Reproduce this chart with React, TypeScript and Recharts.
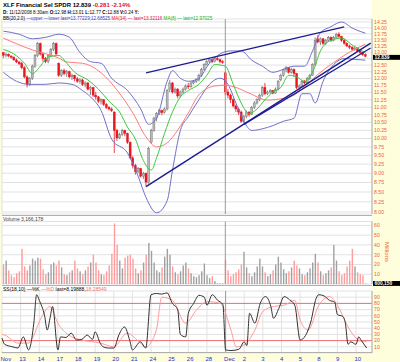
import React from 'react';
import { ComposedChart, Bar, Line, XAxis, YAxis, CartesianGrid, ReferenceLine } from 'recharts';

const dayLabels = ['Nov', '13', '14', '17', '18', '19', '20', '21', '24', '25', '26', '28', 'Dec', '2', '3', '4', '5', '8', '9', '10'];
const barsPerDay = 7;
const slotCount = 140;

// hourly bars, one row per trading day
const opens = [
  12.98, 12.88, 12.92, 12.85, 12.8, 12.7, 12.62,
  12.57, 12.4, 12.06, 11.79, 12.01, 12.46, 12.87,
  13.35, 12.93, 12.75, 12.63, 12.87, 13.11, 13.35,
  12.57, 12.12, 12.29, 12.18, 12.25, 12.06, 12.12,
  11.99, 11.9, 11.95, 11.79, 11.84, 11.62, 11.68,
  11.41, 11.35, 11.2, 11.25, 11.09, 10.99, 10.94,
  10.84, 10.25, 10.02, 10.12, 10.25, 10.16, 9.89,
  9.43, 9.21, 9.04, 9.13, 8.92, 9.0, 8.76,
  9.89, 10.25, 10.64, 10.79, 10.89, 10.82, 10.94,
  11.62, 11.84, 11.52, 11.62, 11.38, 11.52, 11.62,
  11.73, 11.7, 11.84, 11.9, 11.95, 12.12, 12.34,
  12.52, 12.63, 12.71, 12.63, 12.75, 12.71, 12.63,
  12.21, 11.52, 11.41, 11.25, 11.04, 10.94, 10.84,
  10.54, 10.69, 10.84, 10.76, 10.99, 11.14, 11.25,
  11.41, 11.68, 11.46, 11.52, 11.57, 11.48, 11.62,
  11.95, 12.12, 12.32, 12.4, 12.23, 12.34, 12.18,
  11.68, 11.73, 11.9, 11.84, 12.01, 12.12, 12.52,
  13.54, 13.41, 13.54, 13.35, 13.48, 13.6, 13.48,
  13.6, 13.73, 13.64, 13.48, 13.35, 13.25, 13.2,
  13.12, 13.15, 13.05, 12.98, 12.9,
];
const highs = [
  13.01, 12.98, 12.95, 12.88, 12.84, 12.75, 12.66,
  12.63, 12.46, 12.12, 12.06, 12.52, 12.93, 13.41,
  13.39, 12.99, 12.81, 12.93, 13.17, 13.41, 13.39,
  12.6, 12.34, 12.37, 12.32, 12.29, 12.18, 12.14,
  12.06, 12.01, 11.99, 11.9, 11.87, 11.73, 11.7,
  11.52, 11.38, 11.3, 11.27, 11.14, 11.04, 10.99,
  10.86, 10.3, 10.18, 10.3, 10.27, 10.18, 9.91,
  9.48, 9.26, 9.17, 9.15, 9.04, 9.02, 9.75,
  10.3, 10.69, 10.84, 10.94, 10.92, 10.99, 11.62,
  11.95, 11.87, 11.68, 11.66, 11.57, 11.68, 11.79,
  11.84, 11.9, 11.95, 12.01, 12.18, 12.4, 12.57,
  12.69, 12.75, 12.75, 12.79, 12.81, 12.75, 12.69,
  12.25, 11.62, 11.46, 11.3, 11.09, 10.99, 10.89,
  10.74, 10.89, 10.86, 11.04, 11.2, 11.3, 11.46,
  11.73, 11.84, 11.57, 11.62, 11.59, 11.68, 11.95,
  12.18, 12.37, 12.46, 12.43, 12.4, 12.37, 12.21,
  11.79, 11.95, 11.95, 12.06, 12.18, 12.57, 13.6,
  13.69, 13.6, 13.57, 13.54, 13.66, 13.64, 13.66,
  13.79, 13.82, 13.66, 13.54, 13.4, 13.3, 13.24,
  13.22, 13.18, 13.1, 13.01, 12.95,
];
const lows = [
  12.77, 12.8, 12.8, 12.75, 12.66, 12.58, 12.5,
  12.34, 12.01, 11.68, 11.73, 11.95, 12.4, 12.81,
  12.87, 12.63, 12.57, 12.57, 12.81, 13.05, 12.87,
  12.06, 12.06, 12.12, 12.06, 12.01, 11.95, 11.9,
  11.84, 11.81, 11.73, 11.68, 11.57, 11.41, 11.35,
  11.25, 11.14, 11.09, 11.04, 10.94, 10.89, 10.84,
  9.57, 9.93, 9.98, 10.07, 10.07, 9.84, 9.39,
  9.13, 8.96, 9.0, 8.88, 8.84, 8.64, 8.72,
  9.84, 10.21, 10.54, 10.74, 10.74, 10.79, 10.89,
  11.52, 11.46, 11.46, 11.3, 11.33, 11.46, 11.57,
  11.62, 11.68, 11.79, 11.84, 11.9, 12.06, 12.29,
  12.48, 12.57, 12.57, 12.6, 12.67, 12.57, 12.55,
  11.41, 11.3, 11.14, 10.99, 10.84, 10.74, 10.49,
  10.49, 10.64, 10.69, 10.74, 10.94, 11.09, 11.2,
  11.35, 11.41, 11.41, 11.46, 11.44, 11.46, 11.57,
  11.9, 12.06, 12.23, 12.18, 12.18, 12.06, 11.62,
  11.57, 11.68, 11.79, 11.81, 11.95, 12.1, 12.46,
  13.35, 13.29, 13.29, 13.29, 13.41, 13.41, 13.44,
  13.54, 13.57, 13.41, 13.3, 13.2, 13.12, 13.05,
  13.05, 13.0, 12.92, 12.85, 12.8,
];
const closes = [
  12.88, 12.92, 12.85, 12.8, 12.7, 12.62, 12.55,
  12.4, 12.06, 11.79, 12.01, 12.46, 12.87, 13.35,
  12.93, 12.75, 12.63, 12.87, 13.11, 13.35, 12.93,
  12.12, 12.29, 12.18, 12.25, 12.06, 12.12, 11.99,
  11.9, 11.95, 11.79, 11.84, 11.62, 11.68, 11.41,
  11.35, 11.2, 11.25, 11.09, 10.99, 10.94, 10.89,
  10.25, 10.02, 10.12, 10.25, 10.16, 9.89, 9.43,
  9.21, 9.04, 9.13, 8.92, 9.0, 8.76, 9.7,
  10.25, 10.64, 10.79, 10.89, 10.82, 10.94, 11.57,
  11.84, 11.52, 11.62, 11.38, 11.52, 11.62, 11.73,
  11.7, 11.84, 11.9, 11.95, 12.12, 12.34, 12.52,
  12.63, 12.71, 12.63, 12.75, 12.71, 12.63, 12.6,
  11.52, 11.41, 11.25, 11.04, 10.94, 10.84, 10.54,
  10.69, 10.84, 10.76, 10.99, 11.14, 11.25, 11.41,
  11.68, 11.46, 11.52, 11.57, 11.48, 11.62, 11.9,
  12.12, 12.32, 12.4, 12.23, 12.34, 12.18, 11.68,
  11.73, 11.9, 11.84, 12.01, 12.12, 12.52, 13.48,
  13.41, 13.54, 13.35, 13.48, 13.6, 13.48, 13.6,
  13.73, 13.64, 13.48, 13.35, 13.25, 13.2, 13.12,
  13.15, 13.05, 12.98, 12.9, 12.84,
];
// millions of shares
const volumes = [
  20, 24, 14, 9, 7, 11, 13,
  36, 18, 14, 19, 26, 24, 27,
  26, 15, 10, 12, 20, 22, 19,
  24, 17, 10, 9, 12, 14, 24,
  16, 13, 10, 14, 18, 22, 30,
  22, 14, 10, 9, 13, 19, 31,
  62, 40, 24, 16, 27, 29, 30,
  26, 16, 11, 14, 22, 30, 42,
  34, 22, 14, 12, 17, 28, 36,
  30, 18, 12, 10, 13, 19, 22,
  16, 11, 8, 7, 9, 13, 21,
  9, 6, 8, 3, 1, 1, 1,
  25, 14, 8, 10, 12, 15, 20,
  33, 17, 11, 8, 12, 18, 26,
  18, 12, 8, 10, 14, 20, 28,
  22, 15, 11, 13, 17, 24, 19,
  16, 10, 9, 12, 16, 22, 31,
  22, 13, 9, 11, 14, 17, 40,
  24, 13, 9, 11, 18, 24, 36,
  18, 12, 10, 9, 0.6,
];

// indicator lines as [bar, value]
const bbUpperPts = [
  [0, 13.86], [6, 13.73], [11, 13.54], [16, 13.6], [21, 13.73], [25, 13.6], [29, 12.99], [33, 12.63],
  [37, 12.57], [41, 12.01], [47, 11.57], [52, 10.94], [55, 10.44], [58, 10.64], [62, 11.9], [64, 12.29],
  [67, 12.01], [70, 11.9], [74, 12.01], [78, 12.57], [82, 12.93], [86, 13.05], [90, 13.05], [94, 12.69],
  [98, 12.46], [102, 12.23], [106, 12.34], [110, 12.46], [114, 12.46], [117, 13.05], [120, 13.79], [124, 14.05],
  [128, 14.25], [132, 13.99], [135, 13.85], [137, 13.77],
];
const bbLowerPts = [
  [0, 12.23], [5, 11.9], [10, 11.79], [16, 11.79], [21, 11.84], [26, 11.79], [30, 11.57], [33, 11.35],
  [37, 10.89], [41, 9.98], [47, 9.57], [51, 8.92], [54, 8.36], [58, 7.98], [62, 8.28], [64, 9.08],
  [67, 10.25], [70, 10.69], [74, 11.25], [78, 11.79], [82, 12.01], [85, 11.79], [88, 11.14], [91, 10.54],
  [94, 10.25], [98, 10.3], [102, 10.4], [106, 10.54], [110, 10.64], [113, 11.46], [116, 11.46], [118, 11.14],
  [121, 11.9], [125, 12.52], [129, 12.75], [133, 12.72], [137, 12.69],
];
const ma34Pts = [
  [0, 13.57], [11, 13.09], [21, 12.77], [24, 12.62], [30, 12.57], [37, 12.21], [43, 11.59], [49, 10.81],
  [54, 10.05], [58, 9.75], [62, 9.87], [66, 10.26], [70, 10.81], [74, 11.42], [80, 11.73], [84, 11.76],
  [88, 11.68], [93, 11.48], [100, 11.24], [104, 11.27], [110, 11.41], [113, 11.62], [119, 12.15], [125, 12.6],
  [131, 13.0], [137, 13.32],
];
const ma8Pts = [
  [0, 13.11], [4, 12.93], [8, 12.57], [11, 12.18], [14, 12.46], [17, 12.81], [21, 12.87], [24, 12.57],
  [27, 12.23], [32, 11.95], [36, 11.62], [40, 11.2], [44, 10.84], [47, 10.35], [50, 9.98], [53, 9.35],
  [56, 9.09], [58, 9.43], [61, 10.16], [64, 10.84], [67, 11.35], [70, 11.57], [74, 11.79], [77, 12.12],
  [80, 12.52], [84, 12.46], [87, 11.79], [90, 11.14], [93, 10.79], [96, 10.94], [99, 11.25], [102, 11.52],
  [105, 11.68], [108, 12.12], [111, 12.06], [114, 11.9], [117, 12.23], [120, 13.05], [124, 13.48], [128, 13.57],
  [132, 13.29], [135, 13.1], [137, 12.97],
];
const stochKPts = [
  [0, 24], [1, 14], [4, 10], [6, 8], [8, 26], [10, 5], [12, 50], [13, 94], [14, 85], [16, 60],
  [17, 37], [18, 55], [19, 75], [21, 5], [22, 26], [24, 25], [26, 32], [28, 21], [30, 22], [32, 29],
  [34, 22], [35, 34], [37, 15], [38, 10], [40, 8], [42, 8], [44, 30], [46, 42], [48, 20], [49, 5],
  [52, 18], [54, 8], [56, 94], [58, 96], [60, 95], [62, 97], [64, 80], [66, 70], [67, 30], [69, 26],
  [70, 64], [72, 80], [74, 93], [76, 90], [77, 77], [79, 94], [81, 85], [83, 78], [84, 5], [86, 4],
  [89, 6], [91, 18], [92, 12], [93, 64], [95, 48], [97, 80], [99, 91], [101, 75], [102, 56], [104, 72],
  [106, 91], [108, 86], [110, 77], [112, 21], [114, 28], [116, 50], [118, 88], [119, 94], [121, 92], [123, 85],
  [125, 82], [126, 62], [128, 59], [129, 48], [130, 14], [131, 18], [133, 14], [134, 26], [135, 20], [137, 8],
];
const stochDPts = [
  [0, 30], [1, 29], [6, 16], [10, 16], [11, 21], [15, 59], [18, 75], [21, 48], [25, 29], [30, 21],
  [37, 16], [42, 10], [47, 32], [52, 16], [54, 10], [58, 37], [60, 90], [64, 85], [69, 48], [73, 69],
  [77, 83], [82, 80], [86, 37], [88, 10], [91, 13], [95, 37], [98, 67], [102, 75], [106, 77], [110, 85],
  [112, 53], [115, 37], [119, 77], [123, 91], [126, 77], [130, 42], [134, 21], [137, 18],
];

// hand drawn trendlines [bar, price]
const trendTop = [[54, 12.21], [129, 14.04]];
const trendLow = [[54, 8.64], [139, 13.36]];
const trendLow2 = [[91, 10.44], [139, 13.17]];

const priceTicks = Array.from({ length: 26 }, (_, k) => 8 + k * 0.25);
const volTicks = [10, 20, 30, 40, 50, 60];
const stochTicks = [10, 20, 30, 40, 50, 60, 70, 80, 90];
const dayStarts = dayLabels.map((_, d) => d * barsPerDay);

const rows: any[] = Array.from({ length: slotCount }, (_, i) => ({
  i,
  o: opens[i] ?? null,
  h: highs[i] ?? null,
  l: lows[i] ?? null,
  c: closes[i] ?? null,
  range: highs[i] != null ? [lows[i], highs[i]] : null,
  vol: volumes[i] ?? null,
}));
const put = (pts: number[][], key: string) => pts.forEach(([i, v]) => { rows[i][key] = v; });
put(bbUpperPts, 'bbU');
put(bbLowerPts, 'bbL');
put(ma34Pts, 'ma34');
put(ma8Pts, 'ma8');
put(stochKPts, 'k');
put(stochDPts, 'd');

const font = "'Liberation Sans', Arial, sans-serif";
const axisRed = '#f0603c';

const Candle = (props: any) => {
  const { x, y, width, height, payload } = props;
  if (!payload || payload.h == null) return <g />;
  const top = Math.min(y, y + height);
  const h = Math.abs(height);
  // log axis: place open/close between the scaled high and low
  const lh = Math.log(payload.h);
  const span = lh - Math.log(payload.l) || 1;
  const yAt = (v: number) => top + ((lh - Math.log(v)) / span) * h;
  const up = payload.c >= payload.o;
  const cx = x + width / 2;
  const bTop = yAt(Math.max(payload.o, payload.c));
  const bBot = yAt(Math.min(payload.o, payload.c));
  const col = up ? '#6a6a6a' : '#e8141e';
  return (
    <g>
      <line x1={cx} x2={cx} y1={top} y2={top + h} stroke={col} strokeWidth={0.8} />
      <rect x={cx - 1} y={bTop} width={2} height={Math.max(bBot - bTop, 0.7)} fill={up ? '#b8b8b8' : '#e8141e'} stroke={col} strokeWidth={0.4} />
    </g>
  );
};

const VolBar = (props: any) => {
  const { x, y, width, height, payload } = props;
  if (!payload || payload.vol == null) return <g />;
  const down = payload.c < payload.o;
  return <rect x={x + width / 2 - 0.7} y={Math.min(y, y + height)} width={1.4} height={Math.abs(height)} fill={down ? '#ff9c9c' : '#a0a0a0'} />;
};

const tag = (text: string, dy = 0) => (props: any) => {
  const vb = props.viewBox;
  const x = vb.x + vb.width + 1;
  const cy = vb.y + dy;
  return (
    <g>
      <rect x={x} y={cy - 2.4} width={27} height={4.9} fill="#000" />
      <text x={x + 1.5} y={cy + 1.7} fontSize={4.9} fontWeight="bold" fill="#fff" fontFamily={font}>{text}</text>
    </g>
  );
};

const DayTick = (props: any) => {
  const { x, y, payload } = props;
  const label = dayLabels[Math.round(payload.value / barsPerDay)];
  return <text x={x - 1.5} y={y + 6} fontSize={6} fill="#2030d0" textAnchor="start" fontFamily={font}>{label}</text>;
};

const line = (key: string, color: string, w = 1) => (
  <Line dataKey={key} stroke={color} strokeWidth={w} dot={false} connectNulls type="monotone" isAnimationActive={false} />
);

const rightAxis = (domain: number[], ticks: number[], fmt?: (v: number) => string, scale: any = 'auto') => (
  <YAxis orientation="right" scale={scale} domain={domain} ticks={ticks} interval={0} allowDataOverflow width={28}
    tickSize={2} tickMargin={0} tickLine={false} axisLine={{ stroke: '#b0b0b0' }}
    tick={{ fontSize: 5.2, fill: axisRed, fontFamily: font }} tickFormatter={fmt} />
);

const hiddenX = (
  <XAxis dataKey="i" type="category" ticks={dayStarts} interval={0} height={0} tick={false} axisLine={false} tickLine={false} />
);

// the 12.75 label sits under the last-price box
const priceFmt = (v: number) => (Math.abs(v - 12.75) < 0.01 ? '' : v.toFixed(2));

const App = () => (
  <div style={{ position: 'absolute', left: 0, top: 0, width: 400, height: 362, background: '#fffedc', fontFamily: font }}>
    <div style={{ position: 'absolute', left: 2, top: 0, width: 370, height: 352, background: '#fff' }} />

    <div style={{ position: 'absolute', left: 0, top: 0 }}>
      <ComposedChart width={400} height={216} data={rows} margin={{ top: 19, right: 0, bottom: 2, left: 2 }}>
        <CartesianGrid stroke="#e2e2e2" />
        {hiddenX}
        {rightAxis([7.951, 14.38], priceTicks, priceFmt, 'log')}
        <ReferenceLine x={84} stroke="#9a9a9a" />
        {line('bbU', '#7070c8')}
        {line('bbL', '#7070c8')}
        {line('ma34', '#ff7a7a')}
        <Bar dataKey="range" shape={Candle} isAnimationActive={false} />
        {line('ma8', '#3cc83c')}
        <ReferenceLine segment={[{ x: trendTop[0][0], y: trendTop[0][1] }, { x: trendTop[1][0], y: trendTop[1][1] }]} stroke="#1c1c90" strokeWidth={1.4} />
        <ReferenceLine segment={[{ x: trendLow[0][0], y: trendLow[0][1] }, { x: trendLow[1][0], y: trendLow[1][1] }]} stroke="#1c1c90" strokeWidth={1.4} />
        <ReferenceLine segment={[{ x: trendLow2[0][0], y: trendLow2[0][1] }, { x: trendLow2[1][0], y: trendLow2[1][1] }]} stroke="#1c1c90" strokeWidth={1.2} />
        <ReferenceLine y={12.839} stroke="none" label={tag('12.839', 1)} />
      </ComposedChart>
    </div>

    <div style={{ position: 'absolute', left: 0, top: 216 }}>
      <ComposedChart width={400} height={70} data={rows} margin={{ top: 5.5, right: 0, bottom: 2, left: 2 }} barCategoryGap={0} barGap={0}>
        <CartesianGrid stroke="#e2e2e2" />
        {hiddenX}
        {rightAxis([0, 64], volTicks)}
        <ReferenceLine x={84} stroke="#9a9a9a" />
        <Bar dataKey="vol" shape={VolBar} isAnimationActive={false} />
        <ReferenceLine y={0.6} stroke="none" label={tag('600,150')} />
      </ComposedChart>
    </div>

    <div style={{ position: 'absolute', left: 0, top: 286 }}>
      <ComposedChart width={400} height={76} data={rows} margin={{ top: 5, right: 0, bottom: 0, left: 2 }}>
        <CartesianGrid stroke="#e2e2e2" />
        <XAxis dataKey="i" type="category" ticks={dayStarts} interval={0} height={9} tick={<DayTick />} axisLine={false} tickLine={false} tickSize={0} />
        {rightAxis([0, 100], stochTicks)}
        <ReferenceLine x={84} stroke="#9a9a9a" />
        <ReferenceLine y={80} stroke="#f07070" />
        <ReferenceLine y={20} stroke="#f07070" />
        {line('d', '#ff9a9a')}
        {line('k', '#303030')}
      </ComposedChart>
    </div>

    <svg width={400} height={362} style={{ position: 'absolute', left: 0, top: 0, pointerEvents: 'none' }} fontFamily={font}>
      <line x1={2} x2={372} y1={215.5} y2={215.5} stroke="#b0b0b0" />
      <line x1={2} x2={372} y1={285.5} y2={285.5} stroke="#b0b0b0" />
      <line x1={2} x2={372} y1={352.5} y2={352.5} stroke="#b0b0b0" />
      <text x={3} y={7} fontSize={6} fontWeight="bold" fill="#000">
        XLF Financial Sel SPDR  12.839 <tspan fill="#e0141e">-0.281  -2.14%</tspan>
      </text>
      <text x={3} y={13.5} fontSize={4.6} fill="#000">
        <tspan fontWeight="bold">D:</tspan> 11/12/2008  8:30am  <tspan fontWeight="bold">O:</tspan>12.98 <tspan fontWeight="bold">H:</tspan>13.01 <tspan fontWeight="bold">L:</tspan>12.77 <tspan fontWeight="bold">C:</tspan>12.88 <tspan fontWeight="bold">V:</tspan>0.24 <tspan fontWeight="bold">Y:</tspan>
      </text>
      <text x={3} y={19.5} fontSize={4.6} fill="#000">
        BB(20,2.0) <tspan fill="#4040c0">—upper —lower last=13.77229;12.68525</tspan> <tspan fill="#e0141e">MA(34) — last=13.32116</tspan> <tspan fill="#20b020">MA(8) — last=12.97025</tspan>
      </text>
      <text x={3} y={221} fontSize={5} fill="#404040">Volume 3,166,178</text>
      <text x={3} y={291} fontSize={5} fill="#000">
        SS(18,10) —%K <tspan fill="#f07070">—%D</tspan> last=8.19888,<tspan fill="#f07070">18.28549</tspan>
      </text>
      <text x={385} y={252} fontSize={6} fill={axisRed} transform="rotate(90 385 252)" textAnchor="middle">Millions</text>
    </svg>
  </div>
);

export default App;
